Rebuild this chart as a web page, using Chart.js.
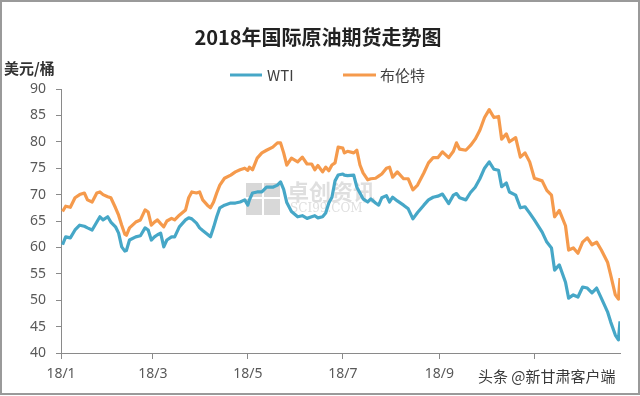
<!DOCTYPE html>
<html>
<head>
<meta charset="utf-8">
<script src="https://cdn.jsdelivr.net/npm/chart.js@4.4.0/dist/chart.umd.min.js"></script>
<style>
  html, body { margin: 0; padding: 0; background: #ffffff; }
  #wrap { width: 640px; height: 396px; position: relative; }
  canvas { display: block; }
</style>
</head>
<body>
<div id="wrap"><canvas id="c" width="640" height="396"></canvas></div>
<script>
const chartTitle = "2018年国际原油期货走势图";
const yAxisTitle = "美元/桶";
const seriesNames = ["WTI", "布伦特"];

const dates = [
  "01-02","01-04","01-07","01-10","01-13","01-16","01-18","01-21","01-24","01-26",
  "01-28","01-31","02-02","02-05","02-07","02-09","02-11","02-12","02-14","02-18",
  "02-21","02-24","02-26","02-28","03-02","03-04","03-06","03-08","03-10","03-13",
  "03-15","03-18","03-22","03-24","03-26","03-29","03-31","04-02","04-05","04-07",
  "04-09","04-11","04-13","04-16","04-20","04-23","04-26","04-29","05-01","05-02",
  "05-04","05-07","05-10","05-13","05-17","05-20","05-22","05-24","05-26","05-29",
  "06-02","06-05","06-08","06-11","06-13","06-15","06-18","06-20","06-22","06-24",
  "06-26","06-28","07-01","07-02","07-04","07-08","07-10","07-12","07-14","07-17",
  "07-19","07-22","07-24","07-26","07-29","07-31","08-02","08-05","08-09","08-12",
  "08-15","08-18","08-22","08-25","08-28","08-31","09-03","09-07","09-10","09-12",
  "09-14","09-18","09-21","09-24","09-27","09-30","10-03","10-06","10-09","10-11",
  "10-14","10-16","10-20","10-23","10-26","10-29","11-01","11-06","11-09","11-12",
  "11-14","11-17","11-21","11-23","11-26","11-29","12-02","12-05","12-08","12-11",
  "12-14","12-18","12-20","12-23","12-25","12-26"
];

const brent = [
  66.8,67.8,67.6,69.4,70.0,70.3,69.0,68.6,70.3,70.5,
  70.0,69.6,69.4,67.5,66.1,64.2,62.5,62.3,63.7,64.8,
  65.2,67.1,66.7,64.2,64.8,65.2,64.5,63.9,65.0,65.5,
  65.2,66.1,67.1,69.4,70.5,70.3,70.5,69.0,68.0,67.5,
  68.6,70.3,71.8,73.1,73.7,74.3,74.7,75.0,74.6,75.2,
  74.7,76.9,77.9,78.4,79.0,79.8,79.8,77.9,75.6,76.9,
  76.2,77.1,75.8,75.8,74.7,75.5,74.3,75.2,74.5,75.6,
  76.0,79.0,78.8,77.9,78.2,77.9,78.4,75.6,74.1,72.8,
  73.0,73.1,73.5,73.9,75.0,75.2,73.3,74.3,73.0,73.0,
  70.9,71.8,74.1,76.0,77.0,77.0,78.1,77.0,78.2,79.8,
  78.6,78.4,79.3,80.5,82.2,84.6,86.1,84.6,84.8,80.5,
  81.5,80.0,80.8,77.1,77.9,76.2,73.1,72.6,70.8,69.9,
  65.8,67.0,64.1,59.5,59.9,58.9,61.0,61.8,60.5,61.0,
  59.5,57.2,54.8,51.0,50.2,54.2
];

const wti = [
  60.5,62.0,61.8,63.3,64.2,64.0,63.7,63.3,64.8,65.8,
  65.2,65.8,64.8,63.9,62.7,60.1,59.3,59.4,61.4,62.0,
  62.2,63.7,63.3,61.4,62.0,62.4,62.7,60.1,61.4,62.0,
  62.0,63.9,65.2,65.6,65.4,64.6,63.7,63.2,62.5,62.0,
  63.8,65.8,67.5,68.0,68.4,68.4,68.6,69.0,68.0,69.0,
  70.3,70.5,70.5,71.4,71.4,71.8,72.4,71.0,68.5,66.8,
  65.8,66.0,65.5,65.8,66.0,65.6,65.8,66.5,68.4,69.5,
  72.6,73.7,73.9,73.7,73.6,73.7,71.4,70.3,69.2,68.6,
  69.2,68.4,68.0,69.4,69.8,68.6,69.5,68.8,68.0,67.3,
  65.4,66.6,68.0,69.0,69.5,69.7,70.1,68.3,69.9,70.2,
  69.4,69.0,70.4,71.4,73.0,75.0,76.2,74.8,74.6,71.5,
  72.2,70.5,69.9,67.5,67.7,66.5,65.2,62.9,61.0,59.9,
  55.7,56.7,53.4,50.4,51.0,50.6,52.5,52.3,51.4,52.3,
  50.4,47.8,45.9,43.4,42.5,46.0
];

const tickDates = ["01-01","03-01","05-01","07-01","09-01","11-01"];
const tickLabels = ["18/1","18/3","18/5","18/7","18/9","18/11"];
const yTicks = [40,45,50,55,60,65,70,75,80,85,90];
const lastDate = "12-26";

function dayOfYear(md) {
  const [m, d] = md.split("-").map(Number);
  return Math.round((Date.UTC(2018, m - 1, d) - Date.UTC(2018, 0, 1)) / 86400000);
}

const xs = dates.map(dayOfYear);
const tickDays = tickDates.map(dayOfYear);

const BLUE = "#46a7c7";
const ORANGE = "#f59a4c";
const AXIS = "#8a8a8a";
const TXT = "#595959";

const decor = {
  id: "decor",
  beforeDatasetsDraw(chart) {
    const ctx = chart.ctx;
    ctx.save();
    ctx.globalAlpha = 0.55;
    ctx.fillStyle = "#b8b8b8";
    ctx.fillRect(246, 183, 16, 14);
    ctx.fillRect(264, 183, 16, 14);
    ctx.fillRect(246, 199, 16, 16);
    ctx.fillRect(264, 199, 16, 16);
    ctx.fillStyle = "#c4c4c4";
    ctx.font = "bold 22px 'Noto Sans CJK SC'";
    ctx.textBaseline = "middle";
    ctx.textAlign = "left";
    ctx.fillText("卓创资讯", 287, 192);
    ctx.font = "12px 'DejaVu Serif'";
    ctx.fillText("SCI99.COM", 290, 209);
    ctx.restore();
  },
  afterDraw(chart) {
    const ctx = chart.ctx;
    ctx.save();
    ctx.strokeStyle = "#9a9a9a";
    ctx.lineWidth = 2;
    ctx.strokeRect(1, 1, 638, 393);
    ctx.fillStyle = "#222222";
    ctx.font = "bold 20px 'Noto Sans CJK SC'";
    ctx.textAlign = "center";
    ctx.textBaseline = "middle";
    ctx.fillText(chartTitle, 318, 37);
    ctx.font = "bold 15px 'Noto Sans CJK SC'";
    ctx.textAlign = "left";
    ctx.fillStyle = "#333333";
    ctx.fillText(yAxisTitle, 4, 68);
    const items = [
      { name: seriesNames[0], color: BLUE, x0: 230, x1: 262, tx: 267 },
      { name: seriesNames[1], color: ORANGE, x0: 343, x1: 376, tx: 380 }
    ];
    ctx.font = "15px 'Noto Sans CJK SC'";
    ctx.lineWidth = 3;
    items.forEach(it => {
      ctx.strokeStyle = it.color;
      ctx.beginPath();
      ctx.moveTo(it.x0, 75);
      ctx.lineTo(it.x1, 75);
      ctx.stroke();
      ctx.fillStyle = "#404040";
      ctx.fillText(it.name, it.tx, 75);
    });
    ctx.fillStyle = "#ffffff";
    ctx.fillRect(474, 364, 160, 24);
    ctx.font = "15px 'Noto Sans CJK SC'";
    ctx.textAlign = "left";
    ctx.lineWidth = 3;
    ctx.strokeStyle = "#ffffff";
    ctx.strokeText("头条 @新甘肃客户端", 478, 376);
    ctx.fillStyle = "#3a3a3a";
    ctx.fillText("头条 @新甘肃客户端", 478, 376);
    ctx.restore();
  }
};

new Chart(document.getElementById("c"), {
  type: "line",
  data: {
    datasets: [
      {
        label: seriesNames[0],
        data: xs.map((x, i) => ({ x: x, y: wti[i] })),
        borderColor: BLUE,
        borderWidth: 3.2,
        pointRadius: 0,
        tension: 0,
        borderJoinStyle: "round",
        fill: false
      },
      {
        label: seriesNames[1],
        data: xs.map((x, i) => ({ x: x, y: brent[i] })),
        borderColor: ORANGE,
        borderWidth: 3.2,
        pointRadius: 0,
        tension: 0,
        borderJoinStyle: "round",
        fill: false
      }
    ]
  },
  options: {
    responsive: false,
    animation: false,
    devicePixelRatio: 1,
    layout: { padding: { left: 0, right: 20, top: 89, bottom: 0 } },
    plugins: {
      legend: { display: false },
      title: { display: false },
      tooltip: { enabled: false }
    },
    scales: {
      x: {
        type: "linear",
        min: 0,
        max: dayOfYear(lastDate),
        afterFit(scale) { scale.height = 43; },
        afterBuildTicks(scale) { scale.ticks = tickDays.map(v => ({ value: v })); },
        grid: { drawOnChartArea: false, drawTicks: true, tickLength: 6, color: AXIS },
        border: { color: AXIS, width: 1 },
        ticks: {
          autoSkip: false,
          maxRotation: 0,
          padding: 7,
          color: TXT,
          font: { family: "'Noto Sans', 'Open Sans', sans-serif", size: 14 },
          callback(v) {
            const i = tickDays.indexOf(v);
            return i >= 0 ? tickLabels[i] : "";
          }
        }
      },
      y: {
        min: 40,
        max: 90,
        afterFit(scale) { scale.width = 61; },
        afterBuildTicks(scale) { scale.ticks = yTicks.map(v => ({ value: v })); },
        grid: { drawOnChartArea: false, drawTicks: true, tickLength: 5, color: AXIS },
        border: { color: AXIS, width: 1 },
        ticks: {
          padding: 10,
          color: TXT,
          font: { family: "'Noto Sans', 'Open Sans', sans-serif", size: 14 }
        }
      }
    }
  },
  plugins: [decor]
});
</script>
</body>
</html>
